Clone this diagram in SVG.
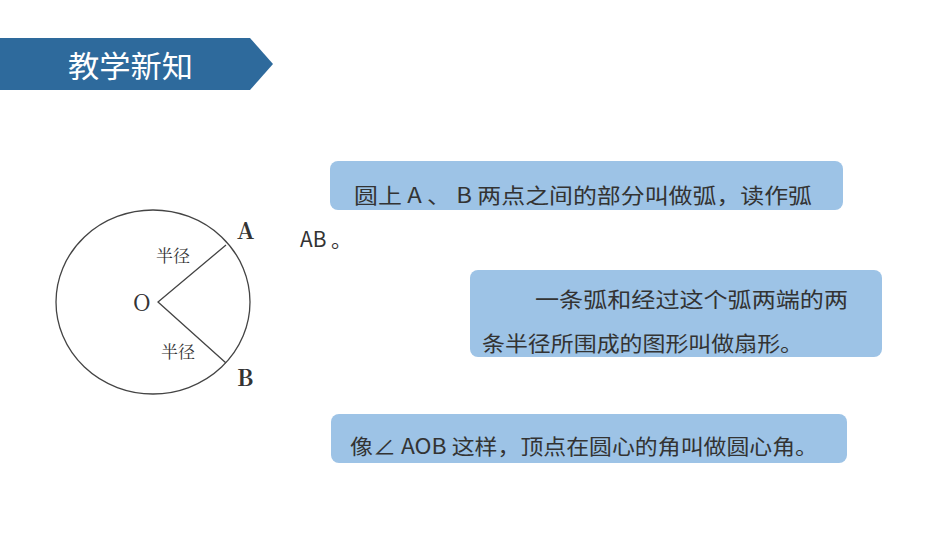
<svg xmlns="http://www.w3.org/2000/svg" width="950" height="535" viewBox="0 0 950 535">
<style>
.t{font-family:"Noto Sans CJK SC","Noto Sans",sans-serif;font-size:21px;fill:#333}
.box{fill:#9dc3e6}
.lbl{font-family:"Noto Serif CJK SC","Liberation Serif",serif;fill:#333}
.ln{stroke:#444;stroke-width:1.3;fill:none}
</style>
<rect width="950" height="535" fill="#fff"/>
<g id="title">
<polygon points="0,38 250,38 273,64 250,90 0,90" fill="#2e6a9c"/>
<text x="68" y="77" font-family="Noto Sans CJK SC,sans-serif" font-size="30" fill="#fff" textLength="125" lengthAdjust="spacingAndGlyphs">教学新知</text>
</g>
<g id="circle">
<ellipse cx="153" cy="302" rx="97" ry="92" class="ln"/>
<polyline points="226,245 158,302 226,363" class="ln"/>
<text x="133" y="311" class="lbl" font-size="23">O</text>
<text x="237" y="239" class="lbl" font-size="23" font-weight="bold">A</text>
<text x="237" y="386" class="lbl" font-size="23" font-weight="bold">B</text>
<text x="156" y="262" class="lbl" font-size="17">半径</text>
<text x="161" y="358" class="lbl" font-size="17">半径</text>
</g>
<g id="box1">
<rect x="330" y="161" width="513" height="49" rx="8" class="box"/>
<text x="354" y="203" class="t" textLength="458" lengthAdjust="spacingAndGlyphs">圆上 A 、 B 两点之间的部分叫做弧，读作弧</text>
<text x="300" y="247" class="t" textLength="52" lengthAdjust="spacingAndGlyphs">AB 。</text>
</g>
<g id="box2">
<rect x="470" y="270" width="412" height="87" rx="8" class="box"/>
<text x="535" y="307" class="t" textLength="313" lengthAdjust="spacingAndGlyphs">一条弧和经过这个弧两端的两</text>
<text x="482" y="351" class="t" textLength="321" lengthAdjust="spacingAndGlyphs">条半径所围成的图形叫做扇形。</text>
</g>
<g id="box3">
<rect x="331" y="414" width="516" height="49" rx="8" class="box"/>
<text x="350" y="454" class="t" textLength="468" lengthAdjust="spacingAndGlyphs">像∠ AOB 这样，顶点在圆心的角叫做圆心角。</text>
</g>
</svg>
